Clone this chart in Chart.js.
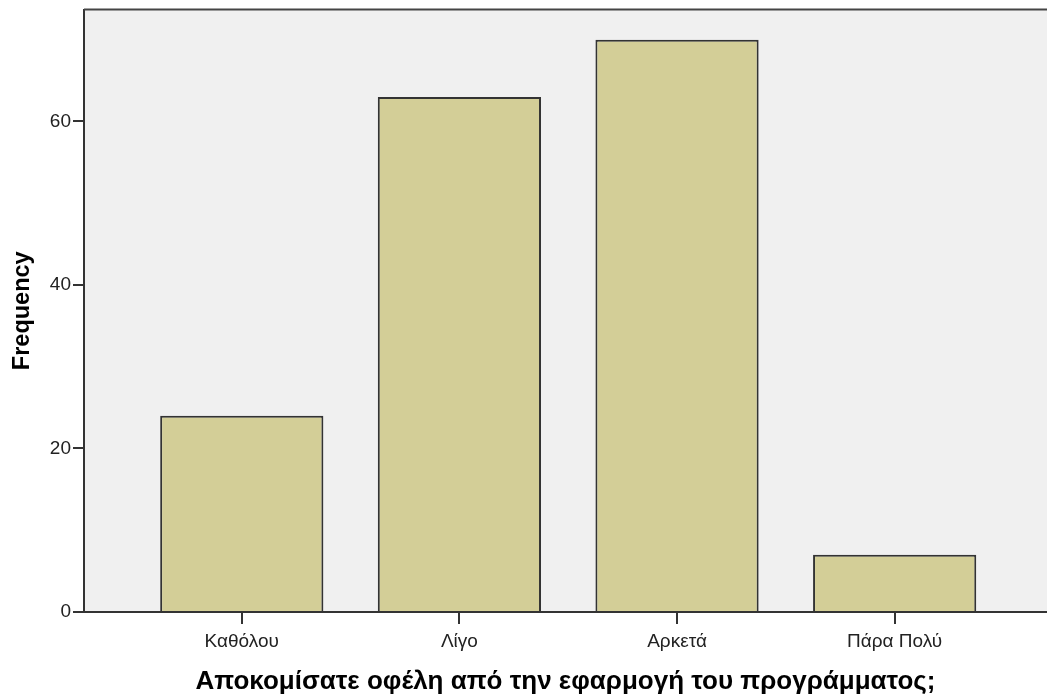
<!DOCTYPE html>
<html>
<head>
<meta charset="utf-8">
<script src="https://cdn.jsdelivr.net/npm/chart.js@4"></script>
<style>
  html, body { margin: 0; padding: 0; background: #fff; overflow: hidden; }
  #wrap { width: 1047px; height: 697px; }
</style>
</head>
<body>
<div id="wrap"><canvas id="chart"></canvas></div>
<script>
const categories = ['Καθόλου', 'Λίγο', 'Αρκετά', 'Πάρα Πολύ'];
const frequencies = [24, 63, 70, 7];
const yTicks = [0, 20, 40, 60];

const xTitle = 'Αποκομίσατε οφέλη από την εφαρμογή του προγράμματος;';
const yTitle = 'Frequency';

// plot background + top frame line
const frame = {
    id: 'frame',
    beforeDraw(chart) {
        const a = chart.chartArea, ctx = chart.ctx;
        ctx.save();
        ctx.fillStyle = '#f0f0f0';
        ctx.fillRect(a.left, a.top, a.right - a.left, a.bottom - a.top);
        ctx.restore();
    },
    afterDraw(chart) {
        const a = chart.chartArea, ctx = chart.ctx;
        ctx.save();
        ctx.strokeStyle = '#444';
        ctx.lineWidth = 2;
        ctx.beginPath();
        ctx.moveTo(a.left, a.top);
        ctx.lineTo(a.right, a.top);
        ctx.stroke();
        ctx.restore();
    }
};

new Chart(document.getElementById('chart'), {
    type: 'bar',
    data: {
        datasets: [{
            data: frequencies.map((v, i) => ({ x: i + 1, y: v })),
            backgroundColor: '#d3ce97',
            borderColor: '#333',
            borderWidth: 2,
            barPercentage: 1,
            categoryPercentage: 0.75
        }]
    },
    options: {
        responsive: true,
        maintainAspectRatio: false,
        animation: false,
        layout: { padding: { top: 9.5, right: 0, left: 0, bottom: 0 } },
        plugins: { legend: { display: false }, tooltip: { enabled: false } },
        scales: {
            x: {
                type: 'linear',
                offset: false,
                min: 0.275,
                max: 4.7,
                afterFit(scale) { scale.height = 85; scale.paddingLeft = 0; scale.paddingRight = 0; },
                border: { display: true, color: '#333', width: 2 },
                grid: { offset: false, drawOnChartArea: false, drawTicks: true, tickLength: 12, color: '#333', lineWidth: 2 },
                ticks: {
                    stepSize: 1,
                    includeBounds: false,
                    autoSkip: false,
                    maxRotation: 0,
                    padding: 6,
                    color: '#222',
                    font: { family: 'Liberation Sans, Arial, sans-serif', size: 19 },
                    callback: v => categories[v - 1] || ''
                },
                title: {
                    display: true,
                    text: xTitle,
                    color: '#000',
                    padding: { top: 12, bottom: 0 },
                    font: { family: 'Liberation Sans, Arial, sans-serif', size: 26, weight: 'bold' }
                }
            },
            y: {
                min: 0,
                max: 73.7,
                afterFit(scale) { scale.width = 84; scale.paddingTop = 0; scale.paddingBottom = 0; },
                afterBuildTicks(scale) { scale.ticks = yTicks.map(v => ({ value: v })); },
                border: { display: true, color: '#333', width: 2 },
                grid: { drawOnChartArea: false, drawTicks: true, tickLength: 11, color: '#333', lineWidth: 2 },
                ticks: {
                    padding: 2,
                    color: '#222',
                    font: { family: 'Liberation Sans, Arial, sans-serif', size: 19 }
                },
                title: {
                    display: true,
                    text: yTitle,
                    color: '#000',
                    padding: { top: 8, bottom: 0 },
                    font: { family: 'Liberation Sans, Arial, sans-serif', size: 23.5, weight: 'bold' }
                }
            }
        }
    },
    plugins: [frame]
});
</script>
</body>
</html>
